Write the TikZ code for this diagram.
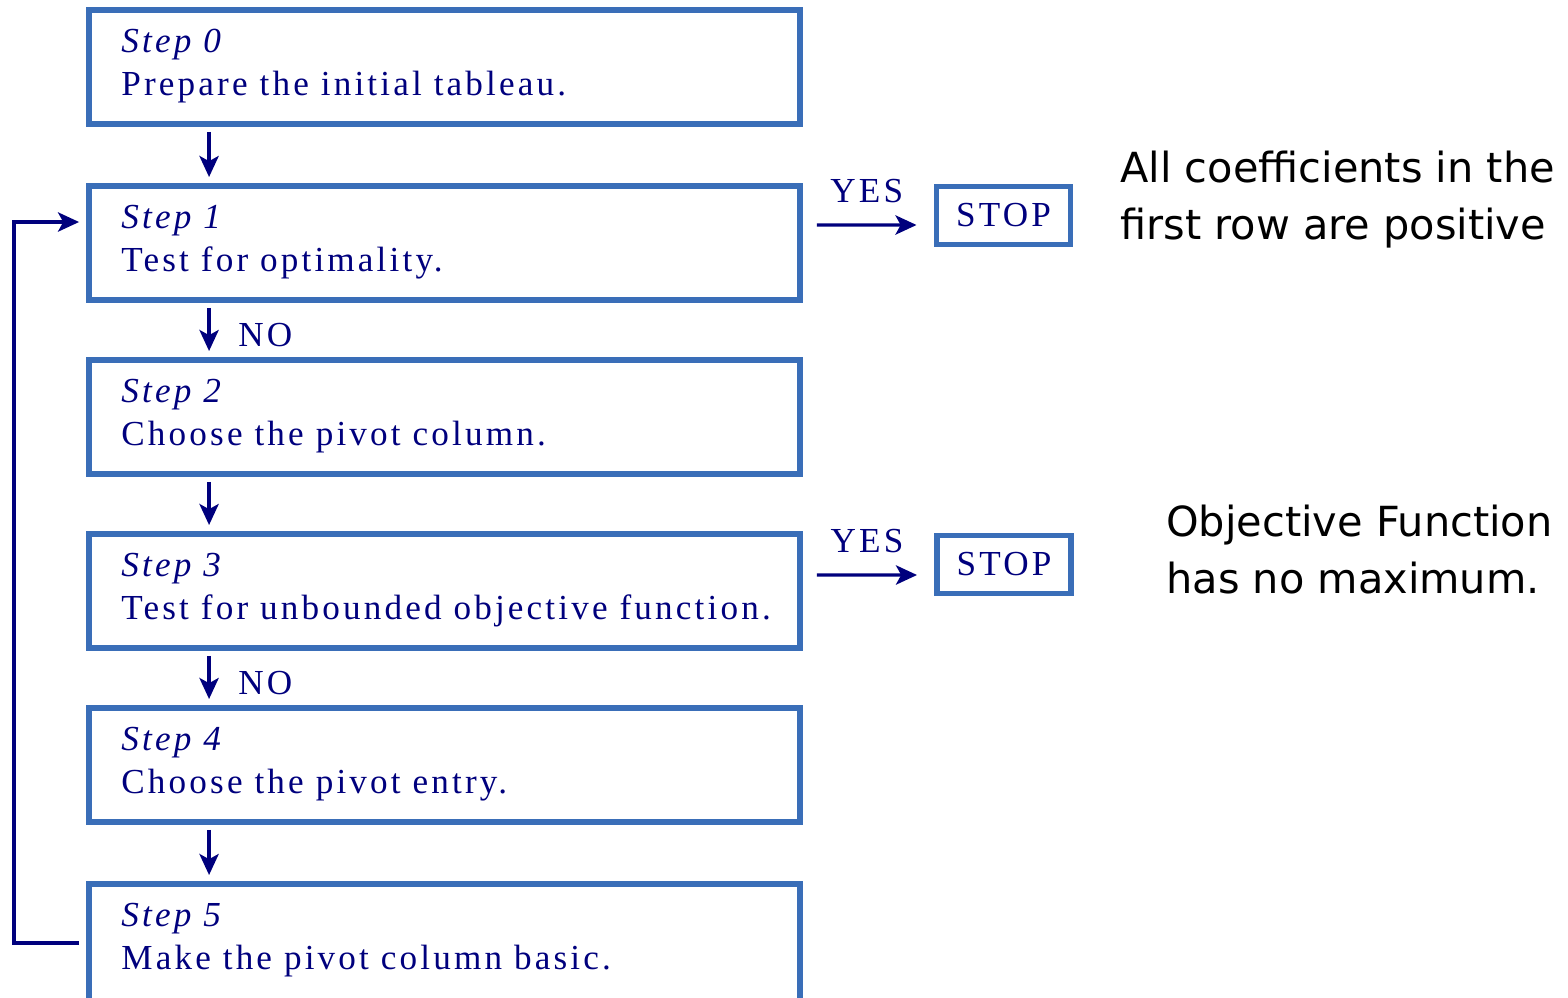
\documentclass[tikz,border=0pt]{standalone}
\usepackage{fontspec}
\usepackage{tikz}
\usetikzlibrary{positioning,calc}
\usetikzlibrary{arrows.meta}
\newfontfamily\flowfont[LetterSpace=9]{Liberation Serif}
\newfontfamily\notefont{DejaVu Sans}
\definecolor{FlowNavy}{RGB}{0,0,125}
\definecolor{BoxBlue}{RGB}{58,110,184}
\tikzset{
	stepbox/.style={draw=BoxBlue,line width=3.1pt,minimum width=14.22cm,inner sep=0pt,outer sep=0pt},
	stopbox/.style={draw=BoxBlue,line width=3.1pt,minimum width=2.68cm,minimum height=1.16cm,inner sep=0pt,outer sep=0pt,
		font=\flowfont\fontsize{20}{24}\selectfont,text=FlowNavy},
	flowtext/.style={font=\flowfont\fontsize{20}{24}\selectfont,text=FlowNavy,inner sep=0pt,anchor=base west},
	flow/.style={draw=FlowNavy,line width=1.8pt,-{Stealth[length=12pt,width=11pt,inset=3pt]}},
	note/.style={font=\notefont\fontsize{23.6}{32.4}\selectfont,align=left,inner sep=0pt,anchor=north west},
}

\begin{document}
\begin{tikzpicture}[x=0.02cm,y=-0.02cm]
	\useasboundingbox (0,0) rectangle (1568,997);
	\clip (0,0) rectangle (1568,997);
	% the six steps
	\foreach \i/\c/\h/\txt in {0/67/2.28/Prepare the initial tableau.,
		1/243/2.28/Test for optimality.,
		2/417/2.28/Choose the pivot column.,
		3/591/2.28/Test for unbounded objective function.,
		4/765/2.28/Choose the pivot entry.,
		5/946/2.48/Make the pivot column basic.}
	{
		\node[stepbox,minimum height=\h cm] (s\i) at (444.5,\c) {};
		\node[flowtext] (h\i) at ($(s\i.north west)+(32,42)$) {\itshape Step \i};
		\node[flowtext] (b\i) at ($(s\i.north west)+(32,85)$) {\txt};
	}
	\foreach \a/\b in {0/1,1/2,2/3,3/4,4/5}
		\draw[flow] ($(s\a.south west)+(120,8)$) -- ($(s\b.north west)+(120,-9)$);
	\node[flowtext] (no1) at ($(s1.south west)+(149,47)$) {NO};
	\node[flowtext] (no3) at ($(s3.south west)+(149,47)$) {NO};
	% exits
	\node[stopbox] (stop1) at (1003.5,215.5) {STOP};
	\node[stopbox] (stop3) at (1004,564.5) {STOP};
	\draw[flow] ($(s1.north east)+(17,39)$) -- ($(stop1.west)+(-20,9.5)$)
		node[flowtext,anchor=base,midway,yshift=13pt] (yes1) {YES};
	\draw[flow] ($(s3.north east)+(17,41)$) -- ($(stop3.west)+(-20,10.5)$)
		node[flowtext,anchor=base,midway,yshift=13pt] (yes3) {YES};
	% back to step 1
	\draw[flow] ($(s5.north west)+(-10,59)$) -| ($(s1.north west)+(-75,36)$) -- ($(s1.north west)+(-10,36)$);
	% notes
	\node[note] (opt) at (1120,151) {All coefficients in the\\first row are positive};
	\node[note] (unb) at (1166,505) {Objective Function\\has no maximum.};
\end{tikzpicture}
\end{document}
